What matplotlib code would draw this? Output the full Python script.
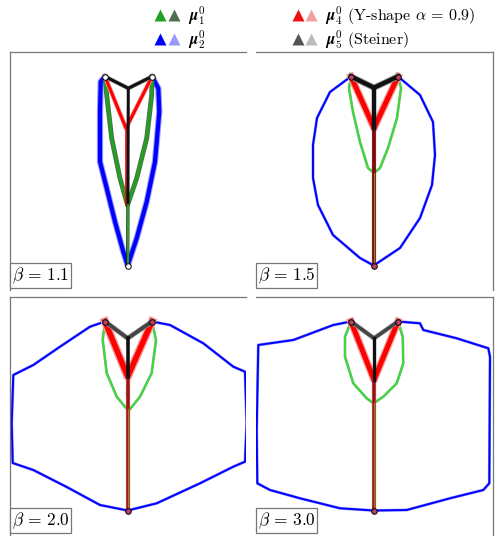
import matplotlib
matplotlib.use("Agg")
import matplotlib.pyplot as plt
from matplotlib.lines import Line2D
from matplotlib.legend_handler import HandlerTuple
from matplotlib.patches import Rectangle

plt.rcParams['font.family'] = ['cmr10', 'DejaVu Serif']
plt.rcParams['mathtext.fontset'] = 'cm'
plt.rcParams['axes.unicode_minus'] = False

# ---------------- data (panel pixel coordinates, y downward) ----------------
BETAS = ["1.1", "1.5", "2.0", "3.0"]
SRC_A = (95.0, 24.5)
SRC_B = (142.0, 24.5)
SRC_C = (117.7, 213.5)

BLACK_J = [(118.3, 36.3), (118.0, 35.7), (117.7, 41.3), (118.0, 41.3)]
RED_J = [(116.0, 76.3), (118.0, 76.0), (117.7, 79.7), (118.0, 83.0)]
RED_TRUNK_END = [153.0, 213.5, 213.5, 213.5]

GREEN_1 = [(95, 24.5), (96.7, 43), (101.7, 86.3), (110, 126.3), (117.5, 153),
           (126.7, 126.3), (136.7, 86.3), (141.7, 43), (142, 24.5)]
GREEN_2 = [(95, 24.5), (93, 36), (97, 60), (104, 90), (112, 116), (118, 121),
           (124, 116), (132, 96), (141, 66), (145, 36), (142, 24.5)]
GREEN_3 = [(95, 24.5), (92.7, 43), (96.7, 76), (106.7, 99.7), (116, 111), (118, 112),
           (119.3, 113), (130, 99.7), (141.7, 76), (146, 43), (142, 24.5)]
GREEN_4 = [(95, 24.5), (89, 39.7), (89, 59.7), (97.3, 86.3), (110.7, 101.3), (117.5, 106.3),
           (127.3, 99.7), (140.7, 86.3), (147.3, 66.3), (146.7, 39.7), (142, 24.5)]
GREEN_JY = [153.0, 121.0, 112.0, 106.3]

BLUE_1 = [(95, 24.5), (90.7, 29.7), (90, 59.7), (90, 109.7), (96.7, 136.3), (105, 169.7),
          (113.3, 199.7), (117.7, 213.5), (126.7, 186.3), (136.7, 149.7), (145, 109.7),
          (149.3, 59.7), (148.3, 36.3), (142, 24.5)]
BLUE_2 = [(95, 24.5), (74, 40), (61, 66), (57, 93), (57, 126), (62, 153), (77, 183),
          (104, 206), (117.7, 213.5), (144, 196), (164, 166), (176, 133), (179, 103),
          (177, 70), (164, 43), (142, 24.5)]
BLUE_3 = [(95, 24.5), (80, 29.7), (50, 49.7), (23.3, 68), (3.3, 78), (1.7, 126), (2.7, 166),
          (23.3, 173), (56.7, 190), (90, 208), (117.7, 213.5), (146.7, 206.3), (190, 186.3),
          (223.3, 169.7), (235, 164.7), (236.7, 126), (235, 74.7), (223.3, 69.7),
          (193.3, 46.3), (160, 28), (142, 24.5)]
BLUE_4 = [(95, 24.5), (77.3, 28), (37.3, 43), (2.3, 48), (0.7, 133), (1.3, 186.3), (14, 193),
          (44, 201.3), (84, 211.3), (117.7, 213.5), (150.7, 213), (194, 201.3), (227.3, 193),
          (233.3, 186.3), (234, 59.7), (232.3, 51.3), (200.7, 41.3), (167.3, 33),
          (164, 26.3), (142, 24.5)]

GREENS = [GREEN_1, GREEN_2, GREEN_3, GREEN_4]
BLUES = [BLUE_1, BLUE_2, BLUE_3, BLUE_4]

# styles
C_GREEN = ["#22a022", "#33e033", "#33e033", "#33e033"]
C_GREEN_L = ["#4f6f4f", "#7faf7f", "#7faf7f", "#7faf7f"]
C_BLUE, C_BLUE_L = "#0000ff", "#9999ff"
C_RED, C_RED_L = "#ff0000", "#f4a0a0"
C_BLK, C_BLK_L = "#111111", "#9a9a9a"
C_TRUNK = ["#ff0000", "#9a1515", "#d03030", "#d03030"]
LW_BLUE = [3.0, 1.4, 1.4, 1.4]
LW_GREEN = [2.2, 1.2, 1.2, 1.2]
LW_RED = [2.2, 3.6, 4.0, 3.6]
LW_BLK = [2.2, 3.2, 2.6, 2.4]

W, H = 499, 539
PANELS = [(10, 52, 236, 238), (256, 52, 237, 238), (10, 297, 236, 238), (256, 297, 237, 238)]

fig = plt.figure(figsize=(W / 100, H / 100), dpi=100)


def xs(pts):
    return [p[0] for p in pts]


def ys(pts):
    return [p[1] for p in pts]


for i, (x0, y0, w, h) in enumerate(PANELS):
    ax = fig.add_axes([x0 / W, 1 - (y0 + h) / H, w / W, h / H])
    ax.set_xlim(0, w)
    ax.set_ylim(h, 0)
    ax.set_xticks([])
    ax.set_yticks([])
    for s in ax.spines.values():
        s.set_visible(False)
    ax.spines['top'].set_visible(True)
    side = 'left' if i % 2 == 0 else 'right'
    ax.spines[side].set_visible(True)
    for s in ('top', side):
        ax.spines[s].set_color('#777777')
        ax.spines[s].set_linewidth(0.9)

    # blue
    b = BLUES[i]
    ax.plot(xs(b), ys(b), color=C_BLUE_L, lw=LW_BLUE[i] * 1.5, solid_capstyle='round', zorder=1)
    ax.plot(xs(b), ys(b), color=C_BLUE, lw=LW_BLUE[i], solid_capstyle='round', zorder=2)
    # green
    g = GREENS[i]
    ax.plot(xs(g), ys(g), color=C_GREEN_L[i], lw=LW_GREEN[i] * 1.6, zorder=3)
    ax.plot(xs(g), ys(g), color=C_GREEN[i], lw=LW_GREEN[i], zorder=4)
    # red
    rj = RED_J[i]
    ax.plot([SRC_A[0], rj[0], SRC_B[0]], [SRC_A[1], rj[1], SRC_B[1]], color=C_RED_L,
            lw=LW_RED[i] * 1.5, zorder=5)
    ax.plot([SRC_A[0], rj[0], SRC_B[0]], [SRC_A[1], rj[1], SRC_B[1]], color=C_RED,
            lw=LW_RED[i], zorder=5)
    ax.plot([rj[0], rj[0]], [rj[1], RED_TRUNK_END[i]], color=C_TRUNK[i],
            lw=1.2 if i == 0 else 3.0, zorder=5)
    # black (Steiner)
    bj = BLACK_J[i]
    ax.plot([SRC_A[0], bj[0], SRC_B[0]], [SRC_A[1], bj[1], SRC_B[1]], color=C_BLK_L,
            lw=LW_BLK[i] * 1.4, zorder=6)
    ax.plot([SRC_A[0], bj[0], SRC_B[0]], [SRC_A[1], bj[1], SRC_B[1]],
            color=C_BLK if i < 2 else "#444444", lw=LW_BLK[i], zorder=6)
    if i == 0:
        ax.plot([bj[0], SRC_C[0]], [bj[1], SRC_C[1]], color=C_BLK, lw=LW_BLK[i], zorder=6)
    else:
        ax.plot([bj[0], rj[0]], [bj[1], rj[1]], color="#111111", lw=LW_BLK[i], zorder=6)
        ax.plot([rj[0], SRC_C[0]], [rj[1], SRC_C[1]], color="#4a1010", lw=1.2, alpha=0.7, zorder=6)
    # green trunk
    ax.plot([SRC_C[0], SRC_C[0]], [GREEN_JY[i], SRC_C[1]], color=C_GREEN[i] if i == 0 else "#7a8a2a",
            lw=1.6 if i == 0 else 0.9, zorder=7)

    # sources
    face = 'white' if i == 0 else '#c04060'
    ax.plot([SRC_A[0], SRC_B[0], SRC_C[0]], [SRC_A[1], SRC_B[1], SRC_C[1]], 'o', ms=4,
            mfc=face, mec='black', mew=0.7, zorder=10)

    # beta box
    ax.add_patch(Rectangle((0.0, 2 / h), 61 / w, 25 / h, transform=ax.transAxes, facecolor='white',
                           edgecolor='#777777', lw=0.9, zorder=20, clip_on=False))
    ax.text(31 / w, 14.5 / h, r"$\beta\,=\,%s$" % BETAS[i], transform=ax.transAxes, fontsize=12.5,
            ha='center', va='center', zorder=21)

# legend
def tri(c):
    return Line2D([], [], ls='none', marker='^', ms=8, mfc=c, mec='none')

handles = [(tri("#22a022"), tri("#4f6f4f")), (tri("#0000ff"), tri("#9999ff")),
           (tri("#ee1111"), tri("#f4a0a0")), (tri("#555555"), tri("#bbbbbb"))]
labels = [r"$\boldsymbol{\mu}_1^0$", r"$\boldsymbol{\mu}_2^0$",
          r"$\boldsymbol{\mu}_4^0$ (Y-shape $\alpha\,=\,0.9$)", r"$\boldsymbol{\mu}_5^0$ (Steiner)"]
fig.legend(handles, labels, handler_map={tuple: HandlerTuple(ndivide=None, pad=0.1)},
           ncol=2, loc='upper left', bbox_to_anchor=(148 / W, 1.0 + 2 / H), frameon=False,
           fontsize=11.5, handlelength=1.6, handletextpad=0.5, columnspacing=5.4,
           labelspacing=0.12, borderaxespad=0.0)

fig.savefig("out.png", dpi=100)
